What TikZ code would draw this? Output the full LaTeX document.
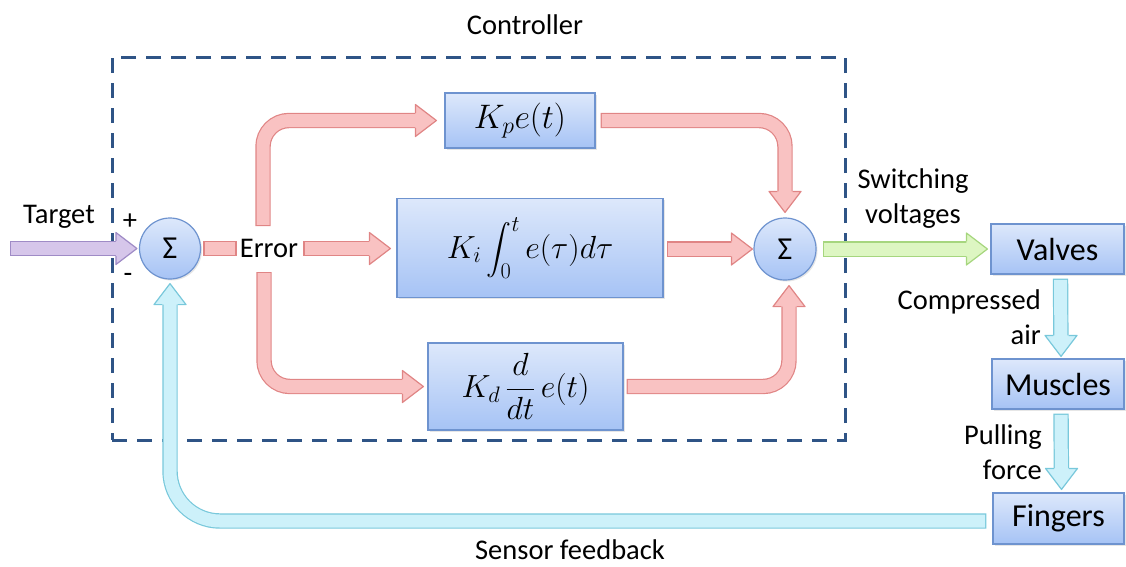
\RequirePackage{fix-cm}
\documentclass[tikz,border=0pt]{standalone}
\usepackage{exscale}
\usepackage[no-math]{fontspec}
\setmainfont{Carlito}
\usetikzlibrary{shadows}
\definecolor{boxT}{HTML}{DDE8FB}
\definecolor{boxB}{HTML}{A6C3F5}
\definecolor{boxD}{HTML}{6E93CF}
\definecolor{redF}{HTML}{F9C2C2}
\definecolor{redD}{HTML}{E08585}
\definecolor{grnF}{HTML}{DDF6C2}
\definecolor{grnD}{HTML}{A6D67E}
\definecolor{cyF}{HTML}{CDF1FA}
\definecolor{cyD}{HTML}{78C8DB}
\definecolor{puF}{HTML}{D6C6EA}
\definecolor{puD}{HTML}{9F8BC6}
\definecolor{dashC}{HTML}{2F5486}
\newcommand\bighead[3]{\filldraw[#3, shift={#1}, rotate=#2] (-21,7.7) -- (-21,16) -- (0,0) -- (-21,-16) -- (-21,-7.7);}
\begin{document}
\begin{tikzpicture}[x=1pt,y=-1pt,
  blk/.style={draw=boxD, line width=1.2pt, top color=boxT, bottom color=boxB, inner sep=0pt,
    drop shadow={shadow xshift=1.5pt, shadow yshift=-1.5pt, opacity=0.2}},
  mathbox/.style={blk, font=\fontsize{32}{38}\selectfont},
  wordbox/.style={blk, font=\fontsize{32}{38}\selectfont},
  sumc/.style={blk, circle, minimum size=61pt, font=\fontsize{32}{36}\selectfont},
  lab/.style={font=\fontsize{28.5}{35}\selectfont, inner sep=0pt, align=center},
  shaft/.style={line width=1.2pt, double distance=13pt, line cap=rect, shorten >=25.7pt, shorten <=7.7pt, rounded corners=26pt},
  redshaft/.style={shaft, draw=redD, double=redF},
  grnshaft/.style={shaft, draw=grnD, double=grnF},
  cyshaft/.style={shaft, draw=cyD, double=cyF},
  pushaft/.style={shaft, draw=puD, double=puF},
  redhead/.style={fill=redF, draw=redD, line width=1.2pt, line join=round},
  grnhead/.style={fill=grnF, draw=grnD, line width=1.2pt, line join=round},
  cyhead/.style={fill=cyF, draw=cyD, line width=1.2pt, line join=round},
  puhead/.style={fill=puF, draw=puD, line width=1.2pt, line join=round},
  dashbox/.style={draw=dashC, line width=3pt, dash pattern=on 15pt off 10pt, inner sep=0pt}
]
\useasboundingbox (0,0) rectangle (1126,566);

% controller frame
\node[dashbox, minimum width=733pt, minimum height=383pt] (ctrl) at (478.5,248.5) {};
\node[lab] (ctl) at (525,25) {Controller};

% nodes
\node[sumc] (sumA) at (170,248.5) {Σ};
\node[sumc, minimum size=62pt] (sumB) at (785,249) {Σ};
\node[mathbox, minimum width=150pt, minimum height=55pt, font=\fontsize{34}{40}\selectfont] (kp) at (520,120.5) {$K_p e(t)$};
\node[mathbox, minimum width=266pt, minimum height=99pt] (ki) at (530,248) {$K_i \displaystyle\int_0^t e(\tau)d\tau$};
\node[mathbox, minimum width=195pt, minimum height=87pt] (kd) at (525.5,386.5) {$K_d\, \displaystyle\frac{d}{dt}\, e(t)$};
\node[wordbox, minimum width=133pt, minimum height=50pt] (valves) at (1057.5,249) {Valves};
\node[wordbox, minimum width=132pt, minimum height=50pt] (muscles) at (1058,384) {Muscles};
\node[wordbox, minimum width=131pt, minimum height=51pt] (fingers) at (1058.5,518.5) {Fingers};

% labels
\node[lab] (tgtl) at (59,217) {Target};
\node[lab] (plus) at (130,222) {+};
\node[lab] (minus) at (128,278) {-};
\node[lab] (err) at (269,248.5) {Error};
\node[lab] (sw) at (913,199) {Switching\\voltages};
\node[lab, align=right, anchor=east] (ca) at (1041,317) {Compressed\\air};
\node[lab, align=right, anchor=east] (pf) at (1042,452) {Pulling\\force};
\node[lab] (sf) at (570,550) {Sensor feedback};

% error stub
\node[fill=redF, draw=redD, line width=1.2pt, minimum width=32pt, minimum height=14pt, inner sep=0pt] (stub) at (220,248.5) {};

\coordinate (tgt) at (10,248.5);
\coordinate (eu) at (263,226);
\coordinate (ed) at (264,272);

% target
\draw[pushaft] (tgt) -- ([xshift=-2pt]sumA.west);
\bighead{([xshift=-2pt]sumA.west)}{0}{puhead}

% error to branches
\draw[redshaft] ([xshift=5pt]err.east) -- ([xshift=-6pt]ki.west |- err.east);
\bighead{([xshift=-6pt]ki.west |- err.east)}{0}{redhead}
\draw[redshaft] (eu) |- ([xshift=-8pt]kp.west);
\bighead{([xshift=-8pt]kp.west)}{0}{redhead}
\draw[redshaft] (ed) |- ([xshift=-4pt]kd.west);
\bighead{([xshift=-4pt]kd.west)}{0}{redhead}

% branches to sum
\draw[redshaft] ([xshift=5pt]kp.east) -| ([yshift=5pt]sumB.north);
\bighead{([yshift=5pt]sumB.north)}{-90}{redhead}
\draw[redshaft] ([xshift=3pt]ki.east |- sumB.west) -- ([xshift=-1pt]sumB.west);
\bighead{([xshift=-1pt]sumB.west)}{0}{redhead}
\draw[redshaft] ([xshift=3pt]kd.east) -| ([xshift=4pt,yshift=-5pt]sumB.south);
\bighead{([xshift=4pt,yshift=-5pt]sumB.south)}{90}{redhead}

% to plant
\draw[grnshaft] ([xshift=6pt]sumB.east) -- ([xshift=-3pt]valves.west);
\bighead{([xshift=-3pt]valves.west)}{0}{grnhead}
\draw[cyshaft] ([xshift=3pt,yshift=-4pt]valves.south) -- ([xshift=3pt,yshift=2pt]muscles.north);
\bighead{([xshift=3pt,yshift=2pt]muscles.north)}{-90}{cyhead}
\draw[cyshaft] ([xshift=3pt,yshift=-4pt]muscles.south) -- ([xshift=3pt,yshift=3pt]fingers.north);
\bighead{([xshift=3pt,yshift=3pt]fingers.north)}{-90}{cyhead}

% feedback
\draw[cyshaft, rounded corners=50pt] ([xshift=-6pt,yshift=-2.5pt]fingers.west) -| ([yshift=-4pt]sumA.south);
\bighead{([yshift=-4pt]sumA.south)}{90}{cyhead}
\end{tikzpicture}
\end{document}
